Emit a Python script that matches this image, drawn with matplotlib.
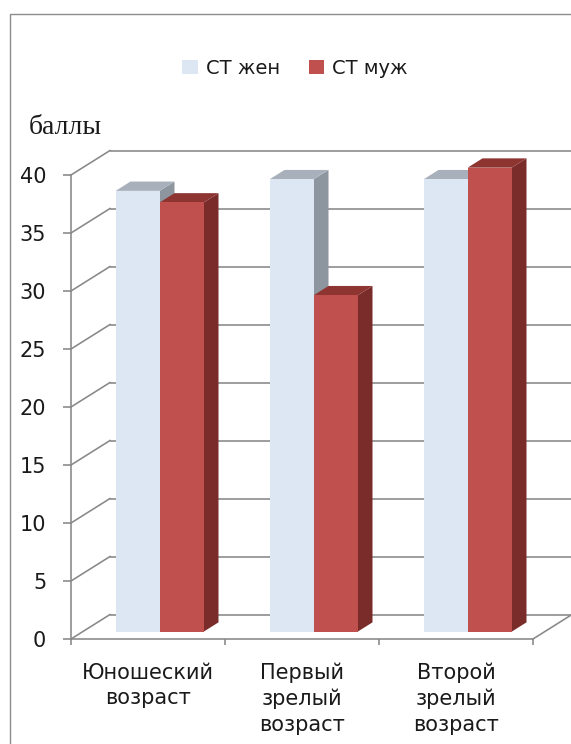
import matplotlib
matplotlib.use("Agg")
import matplotlib.pyplot as plt
from matplotlib.patches import Polygon, Rectangle, Patch

# Scores by age group
categories = ["Юношеский\nвозраст", "Первый\nзрелый\nвозраст", "Второй\nзрелый\nвозраст"]
series_names = ["СТ жен", "СТ муж"]
women = [38, 39, 39]
men = [37, 29, 40]
y_ticks = list(range(0, 41, 5))
y_label = "баллы"

W_PX, H_PX, DPI = 571, 744, 100

# colours (face, top, side) per series
light = ("#dde7f4", "#a7b0bb", "#8d959f")
red = ("#c0504d", "#8e3431", "#7a2c2a")
grid_c = "#888888"

plt.rcParams["font.family"] = ["DejaVu Sans"]

fig = plt.figure(figsize=(W_PX / DPI, H_PX / DPI), dpi=DPI)


def fx(px):
    return px / W_PX


def fy(py):
    return 1 - py / H_PX


# front plane of the 3-D box
ax = fig.add_axes([fx(71), fy(639), fx(533) - fx(71), fy(175) - fy(639)])
ax.set_xlim(0, 3)
ax.set_ylim(0, 40)
ax.patch.set_visible(False)

# oblique depth vector (data units)
DX, DY = 0.253, 2.11
F0, F1 = 0.30, 0.68          # bar front / back depth fraction
BW = 1 / 3.5                 # bar width (gap width 150 %)
margin = (1 - 2 * BW) / 2

lw_grid = 1.6 * 72 / DPI

# back wall grid lines and side-wall diagonals
for v in y_ticks:
    ax.plot([DX, 3 + DX + 0.2], [v + DY, v + DY], color=grid_c, lw=lw_grid,
            clip_on=False, zorder=1, solid_capstyle="butt")
    ax.plot([0, DX], [v, v + DY], color=grid_c, lw=lw_grid, clip_on=False, zorder=1)
# right edge of the floor
ax.plot([3, 3 + DX], [0, DY], color=grid_c, lw=lw_grid, clip_on=False, zorder=1)

# bars
z = 3
for i in range(len(categories)):
    for j, (vals, cols) in enumerate([(women, light), (men, red)]):
        v = vals[i]
        xl = i + margin + j * BW
        xr = xl + BW
        side = [(xr + F0 * DX, F0 * DY), (xr + F0 * DX, v + F0 * DY),
                (xr + F1 * DX, v + F1 * DY), (xr + F1 * DX, F1 * DY)]
        top = [(xl + F0 * DX, v + F0 * DY), (xr + F0 * DX, v + F0 * DY),
               (xr + F1 * DX, v + F1 * DY), (xl + F1 * DX, v + F1 * DY)]
        ax.add_patch(Polygon(side, closed=True, fc=cols[2], ec="none",
                             zorder=z, clip_on=False))
        ax.add_patch(Polygon(top, closed=True, fc=cols[1], ec="none",
                             zorder=z + 1, clip_on=False))
        ax.bar(xl + F0 * DX, v, width=BW, bottom=F0 * DY, align="edge",
               color=cols[0], edgecolor="none", zorder=z + 2, clip_on=False)
        z += 3

# axes styling
for s in ["top", "right"]:
    ax.spines[s].set_visible(False)
for s in ["left", "bottom"]:
    ax.spines[s].set_color(grid_c)
    ax.spines[s].set_linewidth(lw_grid)
    ax.spines[s].set_zorder(2)

ax.set_yticks(y_ticks)
ax.set_yticklabels([str(t) for t in y_ticks])
ax.tick_params(axis="y", length=8 * 72 / DPI, width=lw_grid, color=grid_c,
               pad=12, labelsize=15, labelcolor="#1a1a1a")

ax.set_xticks([0, 1, 2, 3])
ax.set_xticklabels([])
ax.tick_params(axis="x", which="major", length=6 * 72 / DPI, width=lw_grid,
               color=grid_c)
ax.set_xticks([0.5, 1.5, 2.5], minor=True)
ax.set_xticklabels(categories, minor=True)
ax.tick_params(axis="x", which="minor", length=0, pad=17, labelsize=15,
               labelcolor="#1a1a1a")
for t in ax.get_xticklabels(minor=True):
    t.set_linespacing(1.35)
    t.set_verticalalignment("top")

# legend
handles = [Patch(fc=light[0], ec="none"), Patch(fc=red[0], ec="none")]
fig.legend(handles, series_names, loc="center", ncol=2, frameon=False,
           bbox_to_anchor=(fx(295), fy(68)), fontsize=14,
           handlelength=0.8, handleheight=0.7, handletextpad=0.4,
           columnspacing=1.5, labelcolor="#1a1a1a")

# unit label
fig.text(fx(29), fy(128), y_label, family="Liberation Serif", fontsize=20,
         ha="left", va="center", color="#1a1a1a")

# chart area border
fig.add_artist(Rectangle((fx(10), -0.05), 1.0, fy(14) + 0.05,
                         transform=fig.transFigure, fill=False,
                         ec="#8c8c8c", lw=1.4 * 72 / DPI))

fig.savefig("out.png", dpi=DPI, facecolor="white")
